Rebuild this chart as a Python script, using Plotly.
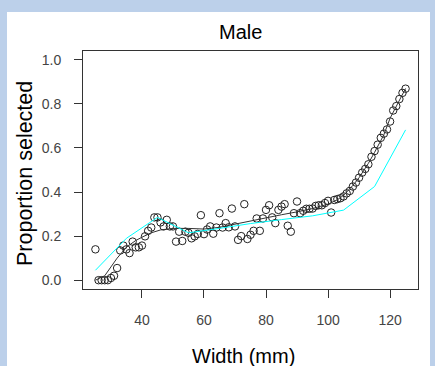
import plotly.graph_objects as go

# ---- data ----
width_mm = list(range(25, 126))
prop_selected = [
    0.14, 0.0, 0.0, 0.0, 0.0, 0.01, 0.02, 0.055, 0.135, 0.157,   # 25-34
    0.14, 0.123, 0.175, 0.149, 0.149, 0.157, 0.199, 0.224, 0.239, 0.285,  # 35-44
    0.285, 0.262, 0.244, 0.274, 0.244, 0.244, 0.175, 0.22, 0.178, 0.22,  # 45-54
    0.215, 0.19, 0.199, 0.21, 0.295, 0.209, 0.23, 0.244, 0.211, 0.239,  # 55-64
    0.304, 0.239, 0.259, 0.24, 0.325, 0.244, 0.183, 0.2, 0.345, 0.187,  # 65-74
    0.206, 0.224, 0.28, 0.224, 0.28, 0.319, 0.34, 0.285, 0.259, 0.319,  # 75-84
    0.334, 0.345, 0.247, 0.22, 0.304, 0.357, 0.304, 0.315, 0.324, 0.324,  # 85-94
    0.325, 0.337, 0.34, 0.34, 0.35, 0.36, 0.307, 0.364, 0.368, 0.372,  # 95-104
    0.38, 0.394, 0.405, 0.425, 0.443, 0.465, 0.488, 0.505, 0.526, 0.56,  # 105-114
    0.586, 0.615, 0.646, 0.665, 0.684, 0.72, 0.77, 0.79, 0.822, 0.85,  # 115-124
    0.869,  # 125
]

smooth_x = [25, 28, 30, 32, 35, 38, 40, 43, 46, 50, 55, 60, 65, 70, 75, 80,
            85, 90, 95, 100, 103, 105, 108, 110, 113, 115, 118, 120, 123, 125]
smooth_y = [0.0, 0.02, 0.06, 0.10, 0.15, 0.18, 0.195, 0.215, 0.228, 0.235,
            0.235, 0.232, 0.24, 0.255, 0.27, 0.285, 0.297, 0.31, 0.325, 0.345,
            0.365, 0.385, 0.43, 0.465, 0.53, 0.58, 0.66, 0.735, 0.82, 0.87]

fit_x = [25, 35, 45, 55, 65, 75, 85, 95, 105, 115, 125]
fit_y = [0.045, 0.19, 0.285, 0.215, 0.235, 0.257, 0.275, 0.292, 0.318, 0.425, 0.682]

x_tickvals = [40, 60, 80, 100, 120]
y_tickvals = [0.0, 0.2, 0.4, 0.6, 0.8, 1.0]
y_ticktext = ["0.0", "0.2", "0.4", "0.6", "0.8", "1.0"]

title_text = "Male"
x_title = "Width (mm)"
y_title = "Proportion selected"

# ---- figure ----
W, H = 435, 366
L, R, T, B = 83, 17, 51, 77
pw, ph = W - L - R, H - T - B

def px_x(p):
    return (p - L) / pw

def px_y(p):
    return (H - B - p) / ph

FONT = "Liberation Sans, Arial, sans-serif"
AX = "#333333"

fig = go.Figure()
fig.add_trace(go.Scatter(
    x=width_mm, y=prop_selected, mode="markers",
    marker=dict(symbol="circle-open", size=7.5, color="#222222",
                line=dict(width=1, color="#222222")),
    showlegend=False, hoverinfo="skip"))
fig.add_trace(go.Scatter(
    x=smooth_x, y=smooth_y, mode="lines",
    line=dict(color="#333333", width=1), showlegend=False, hoverinfo="skip"))
fig.add_trace(go.Scatter(
    x=fit_x, y=fit_y, mode="lines",
    line=dict(color="#00ffff", width=1), showlegend=False, hoverinfo="skip"))

fig.update_layout(
    width=W, height=H,
    margin=dict(l=L, r=R, t=T, b=B, pad=0),
    paper_bgcolor="#bcd0ea",
    plot_bgcolor="white",
    font=dict(family=FONT, color="#111111"),
    shapes=[dict(type="rect", xref="paper", yref="paper",
                 x0=px_x(7), x1=px_x(430), y0=px_y(366), y1=px_y(12),
                 fillcolor="white", line=dict(width=0), layer="below")],
    annotations=[
        dict(text=title_text, xref="paper", yref="paper",
             x=px_x(240.5), y=px_y(32), xanchor="center", yanchor="middle",
             showarrow=False, font=dict(size=20, family=FONT, color="#000")),
        dict(text=x_title, xref="paper", yref="paper",
             x=px_x(243.5), y=px_y(356), xanchor="center", yanchor="middle",
             showarrow=False, font=dict(size=20, family=FONT, color="#000")),
        dict(text=y_title, xref="paper", yref="paper", textangle=-90,
             x=px_x(25), y=px_y(174), xanchor="center", yanchor="middle",
             showarrow=False, font=dict(size=21.5, family=FONT, color="#000")),
    ],
)

fig.update_xaxes(
    range=[21, 129], tickvals=x_tickvals, ticks="outside", ticklen=8,
    tickcolor=AX, tickwidth=1, showline=True, mirror=True, linecolor=AX,
    linewidth=1, showgrid=False, zeroline=False,
    tickfont=dict(size=14, family=FONT, color="#444444"),
    ticklabelstandoff=10)
fig.update_yaxes(
    range=[-0.04, 1.04], tickvals=y_tickvals, ticktext=y_ticktext,
    ticks="outside", ticklen=8, tickcolor=AX, tickwidth=1, showline=True,
    mirror=True, linecolor=AX, linewidth=1, showgrid=False, zeroline=False,
    tickfont=dict(size=14, family=FONT, color="#444444"),
    ticklabelstandoff=10)

fig.write_html(
    "out.html",
    config={"displayModeBar": False},
    post_script="document.body.style.margin='0';document.body.style.overflow='hidden';",
)
